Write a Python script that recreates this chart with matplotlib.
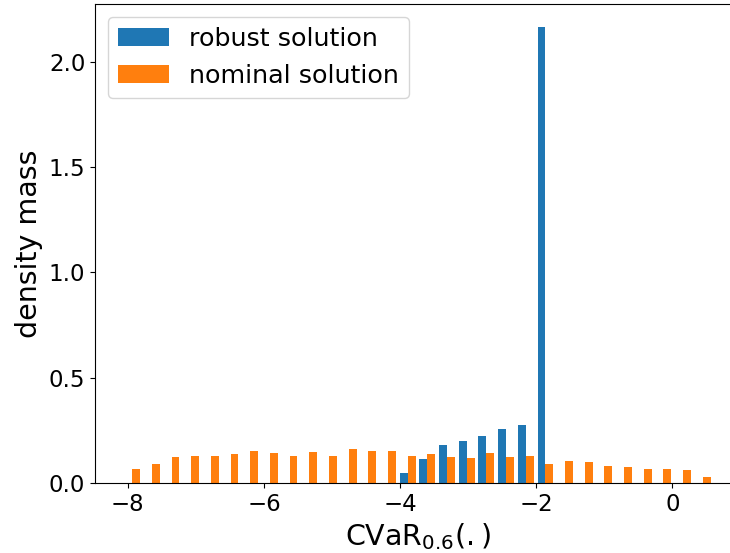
import numpy as np
import matplotlib
matplotlib.use("Agg")
import matplotlib.pyplot as plt

# bin edges of the histogram (30 bins)
bin_lo, bin_hi, n_bins = -8.08, 0.59, 30

# density heights per bin
robust = [0]*14 + [0.047, 0.113, 0.180, 0.199, 0.222, 0.255, 0.274, 2.165] + [0]*8
nominal = [0.066, 0.090, 0.123, 0.128, 0.128, 0.137, 0.151, 0.142, 0.128, 0.147,
           0.128, 0.161, 0.151, 0.151, 0.128, 0.137, 0.123, 0.118, 0.142, 0.123,
           0.128, 0.090, 0.104, 0.099, 0.080, 0.076, 0.066, 0.066, 0.061, 0.028]
labels = ["robust solution", "nominal solution"]

edges = np.linspace(bin_lo, bin_hi, n_bins + 1)
centers = (edges[:-1] + edges[1:]) / 2

fig = plt.figure(figsize=(7.3, 5.53), dpi=100)
ax = fig.add_axes([95/730, 70/553, 645/730, 479/553])
ax.hist([centers, centers], bins=edges, weights=[robust, nominal], label=labels)
ax.set_xlabel(r"CVaR$_{0.6}(.)$", fontsize=20.5)
ax.set_ylabel("density mass", fontsize=20.5)
ax.tick_params(labelsize=16.5)
ax.legend(loc="upper left", fontsize=18.3)
fig.savefig("out.png", dpi=100)
